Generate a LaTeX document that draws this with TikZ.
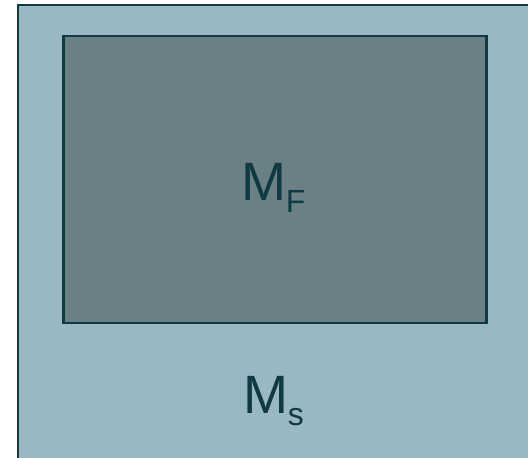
\documentclass[tikz,border=0pt]{standalone}
\usepackage{fontspec}
\setmainfont{Liberation Sans}
\definecolor{outerfill}{HTML}{99B8C2}
\definecolor{innerfill}{HTML}{6A8085}
\definecolor{edge}{HTML}{0F3A44}
\begin{document}
\begin{tikzpicture}[x=1pt,y=-1pt,
  region/.style={draw=edge,line width=2.5pt},
  lbl/.style={text=edge,anchor=base west,inner sep=0pt,outer sep=0pt}]
\useasboundingbox (0,0) rectangle (528,458);
\clip (0,0) rectangle (528,458);
\fill[white] (0,0) rectangle (528,458);
\draw[region,fill=outerfill] (18,5) rectangle (545,475);
\draw[region,fill=innerfill] (63.5,36) rectangle (486.5,323);
\node[lbl] (mf) at (241,200) {\fontsize{54}{60}\selectfont M\raisebox{-12pt}{\fontsize{32}{36}\selectfont F}};
\node[lbl] (ms) at (243,413) {\fontsize{54}{60}\selectfont M\raisebox{-12pt}{\fontsize{32}{36}\selectfont s}};
\end{tikzpicture}
\end{document}
